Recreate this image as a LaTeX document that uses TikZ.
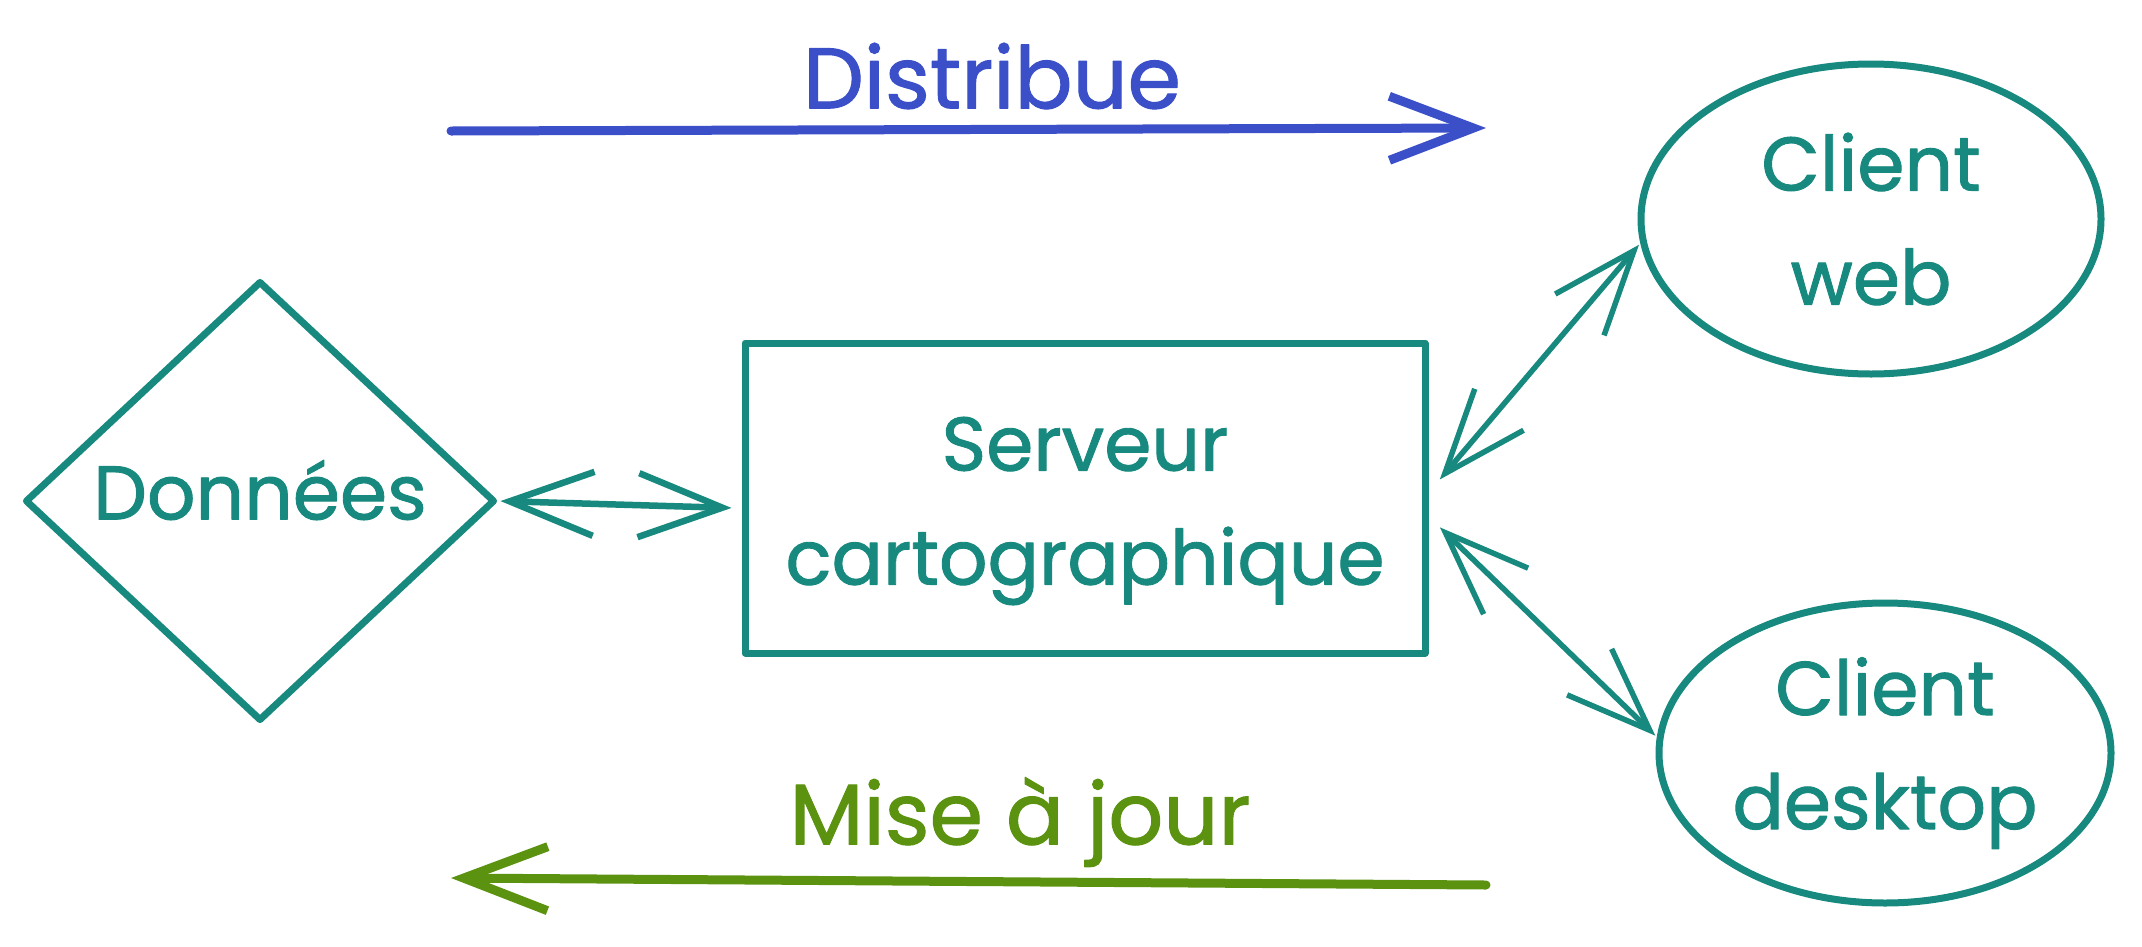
\documentclass[tikz,border=0pt]{standalone}
\usepackage{fontspec}
\setmainfont{Poppins}
\newfontfamily\handfont{Poppins}[FakeBold=1.2]
\usetikzlibrary{arrows.meta,shapes.geometric,calc}
\definecolor{tealink}{HTML}{17897E}
\definecolor{blueink}{HTML}{3A4FC8}
\definecolor{greenink}{HTML}{5B920F}
\begin{document}
\begin{tikzpicture}[x=1pt,y=-1pt,
  line cap=round, line join=round,
  lbl/.style={font=\handfont\fontsize{76}{114}\selectfont, align=center},
  biglbl/.style={font=\handfont\fontsize{86}{114}\selectfont, align=center},
  shapebox/.style={draw=tealink, text=tealink, line width=7pt, inner sep=0pt, lbl},
  inner/.style={lbl, text=tealink},
  barb/.tip={Straight Barb[length=84pt,width=64pt]},
  link/.style={draw=tealink, line width=5.5pt, barb-barb, shorten <=2pt, shorten >=2pt},
  flow/.style={line width=9pt, -barb},
]
\useasboundingbox (0,0) rectangle (2142,946);

% main nodes
\node[shapebox, diamond, minimum width=470pt, minimum height=440pt,
  label={[inner, yshift=11pt]center:Données}] (d) at (260,501) {};
\node[shapebox, rectangle, minimum width=680pt, minimum height=310pt,
  label={[inner, yshift=-13pt]center:Serveur\\cartographique}] (s) at (1085,498) {};
\node[shapebox, ellipse, minimum width=460pt, minimum height=310pt] (w) at (1871,219) {Client\\web};
\node[shapebox, ellipse, minimum width=452pt, minimum height=300pt] (k) at (1885,753) {Client\\desktop};

% connectors between nodes
\draw[link, line width=6.5pt] (d.east) -- ($(s.west)+(-8,10)$);
\draw[link] ([xshift=10pt,yshift=17pt]s.east) -- (w.186);
\draw[link] ([xshift=10pt,yshift=-28pt]s.east) -- (k.176);

% flow arrows along the top and bottom
\coordinate (ds) at (451,131);
\coordinate (de) at (1486,128);
\draw[flow, draw=blueink] (ds) -- (de);
\node[biglbl, text=blueink] (dl) at (992,76) {Distribue};

\coordinate (ms) at (1486,885);
\coordinate (me) at (451,878);
\draw[flow, draw=greenink] (ms) -- (me);
\node[biglbl, text=greenink] (ml) at (1020,822) {Mise à jour};
\end{tikzpicture}
\end{document}
